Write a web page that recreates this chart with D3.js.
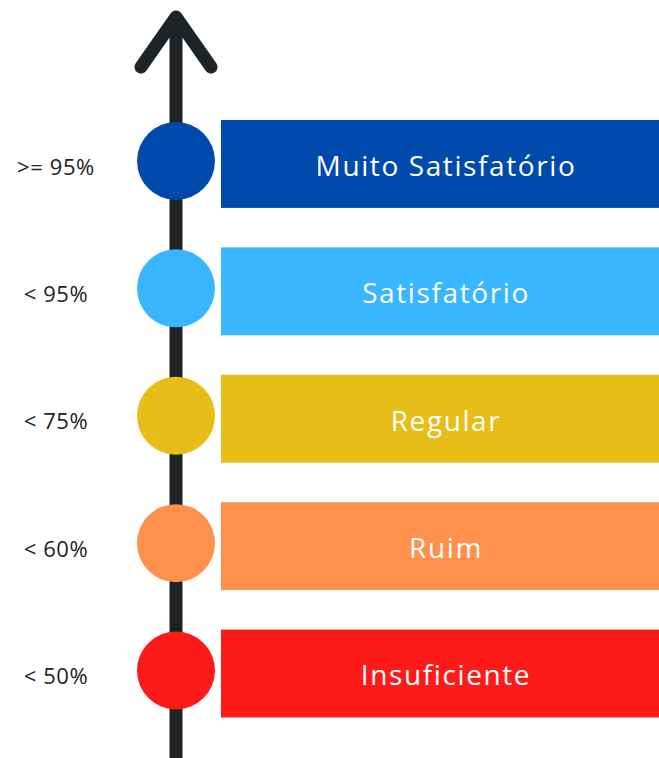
<!DOCTYPE html>
<html lang="pt">
<head>
<meta charset="utf-8">
<title>Faixas de desempenho</title>
<script src="https://cdn.jsdelivr.net/npm/d3@7"></script>
<style>
  body { margin: 0; background: #fff; }
</style>
</head>
<body>
<script>
const w = 659
const h = 758

// data, top to bottom
const levels = ["Muito Satisfatório", "Satisfatório", "Regular", "Ruim", "Insuficiente"]
const thresholds = [">= 95%", "< 95%", "< 75%", "< 60%", "< 50%"]
const colors = ["#004aad", "#38b6ff", "#e6be17", "#ff914d", "#ff1a1a"]

const axisX = 176
const barX0 = 221
const barX1 = 669

const y = d3.scaleBand()
  .domain(levels)
  .range([120, 717.5])
  .paddingInner(0.31)
  .paddingOuter(0)

let svg = d3.select("body").append("svg")
  .attr("width", w)
  .attr("height", h)

// vertical arrow
svg.append("line")
  .attr("x1", axisX).attr("x2", axisX)
  .attr("y1", 16).attr("y2", h + 10)
  .attr("stroke", "#1e2326")
  .attr("stroke-width", 13)
svg.append("polyline")
  .attr("points", `${axisX - 35},67 ${axisX},17 ${axisX + 35},67`)
  .attr("fill", "none")
  .attr("stroke", "#1e2326")
  .attr("stroke-width", 13)
  .attr("stroke-linecap", "round")
  .attr("stroke-linejoin", "round")

let rows = svg.selectAll("g.row")
  .data(levels)
  .enter()
  .append("g")
  .attr("class", "row")

rows.append("rect")
  .attr("x", barX0)
  .attr("y", d => y(d))
  .attr("width", barX1 - barX0)
  .attr("height", y.bandwidth())
  .attr("fill", (d, i) => colors[i])

rows.append("circle")
  .attr("cx", axisX)
  .attr("cy", d => y(d) + y.bandwidth() / 2 - 3)
  .attr("r", 39)
  .attr("fill", (d, i) => colors[i])

rows.append("text")
  .attr("x", (barX0 + barX1) / 2 + 1)
  .attr("y", d => y(d) + y.bandwidth() / 2 + 2)
  .attr("dy", "0.35em")
  .attr("text-anchor", "middle")
  .attr("font-family", "'Open Sans', 'Noto Sans', sans-serif")
  .attr("font-size", "28px")
  .attr("letter-spacing", "1.6px")
  .attr("fill", "#fff")
  .text(d => d)

rows.append("text")
  .attr("x", 56)
  .attr("y", (d, i) => y(d) + y.bandwidth() / 2 + 3)
  .attr("dy", "0.35em")
  .attr("text-anchor", "middle")
  .attr("font-family", "'Open Sans', 'Noto Sans', sans-serif")
  .attr("font-size", "22px")
  .attr("letter-spacing", "0.6px")
  .attr("fill", "#222")
  .text((d, i) => thresholds[i])
</script>
</body>
</html>
